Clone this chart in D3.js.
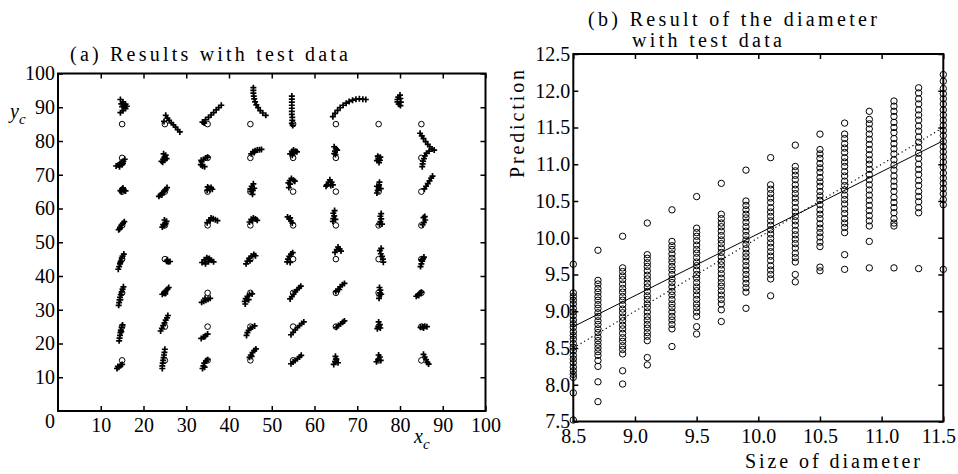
<!DOCTYPE html>
<html>
<head>
<meta charset="utf-8">
<script src="https://cdn.jsdelivr.net/npm/d3@7"></script>
<style>
	body { margin: 0; background: #fff; }
	svg text { font-family: 'Liberation Serif', 'DejaVu Serif', serif; }
</style>
</head>
<body>
<svg id="graphic" width="958" height="474"></svg>
<script>
// ---- panel (a): target grid and predicted positions ----
const targetXs = [15, 25, 35, 45, 55, 65, 75, 85];
const targetYs = [85, 75, 65, 55, 45, 35, 25, 15];

// one list of predicted (x, y) per target, row by row (targetYs) then targetXs
const predictedTracks = [
	// y = 85
	[[14.6,92.3],[15.2,91.6],[15.8,90.9],[16.1,90.3],[15.8,89.6],[15.2,89.0],[14.6,88.4],[15.0,90.2],[14.8,91.0],[15.4,90.4]],
	[[25.2,87.6],[25.6,86.8],[26.0,86.1],[26.5,85.4],[27.0,84.8],[27.5,84.1],[28.0,83.4],[28.5,82.7],[24.8,85.8]],
	[[33.8,85.6],[34.5,86.3],[35.2,87.0],[35.8,87.7],[36.4,88.4],[37.0,89.2],[37.6,89.9],[38.2,90.6],[34.2,85.3]],
	[[45.7,95.8],[45.7,95.0],[45.7,94.2],[45.8,93.3],[45.9,92.5],[46.1,91.6],[46.4,90.7],[46.8,89.9],[47.3,89.0],[47.9,88.3],[48.6,87.6]],
	[[54.7,93.3],[54.7,92.4],[54.7,91.5],[54.7,90.6],[54.7,89.7],[54.7,88.8],[54.7,87.9],[54.8,87.0],[54.8,86.1],[54.7,85.2],[54.9,84.6]],
	[[64.3,87.2],[64.8,88.2],[65.4,89.1],[66.0,89.9],[66.7,90.6],[67.4,91.2],[68.1,91.7],[68.9,92.1],[69.7,92.4],[70.5,92.5],[71.3,92.4],[72.0,92.3]],
	[[80.0,93.6],[79.6,93.0],[79.4,92.3],[79.4,91.6],[79.7,90.9],[80.1,90.5],[80.2,91.5],[80.1,92.6]],
	[[84.7,82.3],[85.1,81.5],[85.5,80.7],[86.0,79.8],[86.5,79.0],[87.0,78.3],[87.5,77.6],[88.0,77.3]],
	// y = 75
	[[13.6,72.6],[14.1,72.9],[14.5,73.3],[14.9,73.7],[15.3,74.0],[15.6,74.6],[14.4,72.4],[15.0,73.0],[15.2,73.4]],
	[[24.2,74.0],[24.6,74.6],[24.9,75.2],[25.2,75.8],[24.7,76.2],[25.4,74.8],[24.5,73.7],[25.0,74.3]],
	[[33.4,73.0],[33.6,73.8],[34.0,74.5],[34.5,75.0],[35.0,75.2],[33.8,72.6],[34.3,72.4],[33.5,74.3]],
	[[45.2,76.2],[45.6,76.8],[46.1,77.1],[46.6,77.3],[47.1,77.4],[47.6,77.5],[45.9,76.6]],
	[[54.3,76.2],[54.7,76.9],[55.1,77.3],[55.6,77.0],[55.2,76.3],[54.8,75.8],[55.9,76.8]],
	[[64.6,76.3],[64.8,77.0],[65.0,77.7],[64.6,78.3],[65.3,77.3],[64.9,76.0]],
	[[74.6,74.2],[75.0,74.7],[75.4,75.2],[74.8,75.5],[75.1,73.6],[75.3,74.3]],
	[[86.8,77.0],[86.2,76.4],[85.8,75.6],[85.6,74.8],[85.4,74.0],[85.3,73.2],[85.2,72.4]],
	// y = 65
	[[14.6,65.3],[15.0,65.8],[15.4,65.5],[15.8,65.2],[14.9,65.0],[15.2,66.1]],
	[[23.6,63.6],[24.0,64.1],[24.4,64.6],[24.8,65.1],[25.2,65.6],[25.5,66.2],[24.3,64.0],[25.0,65.4]],
	[[34.9,65.4],[35.3,66.0],[35.8,66.2],[36.1,65.7],[35.5,65.6],[35.0,66.4]],
	[[45.5,64.2],[45.2,65.0],[45.0,65.8],[45.3,66.6],[45.7,67.3],[45.9,66.0],[45.6,65.4]],
	[[53.9,67.6],[54.2,68.3],[54.6,68.9],[55.1,68.4],[55.4,68.1],[54.0,66.2],[54.3,67.2]],
	[[62.9,67.0],[63.3,67.8],[63.6,68.5],[64.0,67.8],[64.3,67.0],[63.8,66.8],[62.7,66.6]],
	[[74.6,64.6],[74.8,65.4],[75.0,66.2],[75.1,67.0],[75.2,67.8],[74.6,66.6],[75.5,65.9]],
	[[85.7,65.8],[86.1,66.6],[86.5,67.4],[86.9,68.2],[87.3,69.0],[87.6,69.6]],
	// y = 55
	[[14.2,53.7],[14.5,54.4],[14.8,55.0],[15.2,55.6],[15.5,56.1],[14.4,53.9]],
	[[24.4,54.5],[24.8,55.0],[25.2,55.5],[25.4,56.2],[24.9,56.6],[24.6,55.2]],
	[[34.9,55.8],[35.3,56.6],[35.8,57.2],[36.3,57.0],[36.8,56.7],[37.3,56.4],[35.6,56.4]],
	[[44.8,56.0],[45.2,56.8],[45.7,57.2],[46.2,56.9],[46.6,56.5],[45.5,56.4]],
	[[53.7,57.5],[54.1,56.9],[54.5,56.3],[54.8,55.7],[54.3,57.2]],
	[[64.3,56.2],[64.4,57.0],[64.6,57.8],[64.4,58.6],[64.7,59.4],[64.9,56.8]],
	[[75.2,55.3],[75.4,56.1],[75.6,56.9],[75.4,57.7],[75.6,58.5],[75.8,55.4]],
	[[85.3,55.2],[85.6,55.9],[85.9,56.6],[85.5,57.3],[85.8,57.6]],
	// y = 45
	[[14.1,42.0],[14.3,42.8],[14.5,43.6],[14.7,44.4],[14.9,45.2],[15.1,45.9],[15.4,46.5],[14.6,44.0]],
	[[25.4,44.4],[25.8,44.2],[26.2,44.3],[25.6,44.8]],
	[[33.7,44.0],[34.2,44.8],[34.8,45.4],[35.4,45.2],[35.9,44.7],[36.4,44.2],[34.5,43.6],[35.2,44.2]],
	[[44.0,43.6],[44.3,44.4],[44.7,45.2],[45.2,45.9],[45.8,46.4],[46.2,46.0],[44.9,44.5]],
	[[53.6,44.2],[53.8,45.0],[54.1,45.8],[54.5,46.5],[54.9,46.9],[54.3,44.0]],
	[[64.8,47.0],[65.2,47.8],[65.5,48.6],[65.9,48.0],[66.2,47.4]],
	[[75.3,47.5],[75.5,46.6],[75.8,45.8],[76.0,45.0],[76.1,44.1],[75.6,48.2]],
	[[84.8,42.8],[85.0,43.6],[85.2,44.4],[85.4,45.1],[85.6,45.6],[85.0,44.8]],
	// y = 35
	[[14.2,31.3],[14.3,32.1],[14.4,32.9],[14.5,33.7],[14.7,34.5],[14.9,35.3],[15.1,36.1],[15.3,36.8],[14.6,33.0]],
	[[24.4,34.6],[24.8,35.1],[25.2,35.6],[25.6,36.1],[25.9,36.6],[25.1,34.8]],
	[[33.6,32.2],[34.1,32.5],[34.6,32.8],[35.1,33.1],[35.6,33.4],[34.4,33.4]],
	[[43.8,31.7],[43.7,32.5],[43.9,33.3],[44.3,34.0],[44.8,34.5],[45.4,34.7],[44.6,33.0]],
	[[54.3,33.2],[54.7,33.9],[55.1,34.6],[55.5,35.3],[55.9,35.9],[56.4,36.5],[56.8,37.0]],
	[[65.0,35.4],[65.5,36.1],[66.0,36.8],[66.5,37.4],[67.0,37.8],[65.8,36.0]],
	[[75.1,33.4],[75.2,34.2],[75.3,35.0],[75.4,35.8],[75.2,36.6],[75.6,34.6]],
	[[83.8,34.0],[84.2,34.4],[84.6,34.8],[85.0,35.2],[84.4,34.2]],
	// y = 25
	[[14.3,20.8],[14.4,21.6],[14.5,22.4],[14.6,23.2],[14.7,24.0],[14.9,24.8],[15.1,25.5],[14.8,23.5]],
	[[24.0,23.7],[24.3,24.5],[24.6,25.3],[24.9,26.1],[25.2,26.9],[25.5,27.6],[25.7,28.3]],
	[[33.5,21.5],[34.0,21.9],[34.5,22.3],[35.0,22.8],[34.3,22.0]],
	[[44.1,22.4],[44.3,23.2],[44.6,23.9],[45.0,24.5],[45.5,24.9],[46.0,25.2]],
	[[54.5,22.6],[55.0,23.3],[55.5,24.0],[56.0,24.7],[56.5,25.3],[57.0,25.9],[57.5,26.4]],
	[[65.1,24.8],[65.6,25.3],[66.1,25.8],[66.6,26.3],[67.0,26.7]],
	[[74.7,24.4],[75.0,25.0],[75.3,25.6],[75.0,26.4],[75.4,24.6]],
	[[84.8,24.8],[85.3,25.0],[85.8,25.1],[86.3,25.0],[85.5,24.6]],
	// y = 15
	[[13.8,12.6],[14.2,13.0],[14.6,13.4],[15.0,13.8],[14.0,13.2]],
	[[24.4,12.6],[24.4,13.4],[24.5,14.2],[24.6,15.0],[24.7,15.8],[24.8,16.6],[24.9,17.4],[25.0,18.3]],
	[[33.8,12.6],[34.0,13.4],[34.2,14.2],[34.6,14.8],[35.0,15.2],[34.3,13.0]],
	[[44.8,15.9],[45.1,16.6],[45.5,17.3],[45.9,17.9],[46.3,18.4],[45.3,16.2]],
	[[54.5,14.0],[55.0,14.5],[55.5,15.0],[56.0,15.5],[56.5,16.0],[56.9,16.5]],
	[[64.5,13.8],[64.8,14.6],[65.1,15.4],[65.5,14.3],[64.9,16.2]],
	[[74.5,14.6],[74.9,15.3],[75.3,16.0],[75.0,16.6],[75.5,15.0]],
	[[85.5,16.8],[85.8,16.0],[86.1,15.2],[86.4,14.4],[86.7,13.9]]
];

const posTickLabels = [10, 20, 30, 40, 50, 60, 70, 80, 90, 100];

// ---- panel (b): diameter predictions ----
const diameterSizes = [8.5, 8.7, 8.9, 9.1, 9.3, 9.5, 9.7, 9.9, 10.1, 10.3, 10.5, 10.7, 10.9, 11.1, 11.3, 11.5];
const diameterPredictions = [
	[9.64, 9.25, 9.20, 9.15, 9.10, 9.04, 8.99, 8.94, 8.88, 8.83, 8.78, 8.72, 8.67, 8.62, 8.56, 8.51, 8.46, 8.40, 8.35, 8.30, 8.24, 8.19, 8.14, 8.10, 7.89, 7.52],
	[9.83, 9.42, 9.37, 9.31, 9.26, 9.20, 9.15, 9.09, 9.04, 8.98, 8.93, 8.87, 8.82, 8.76, 8.71, 8.65, 8.60, 8.55, 8.50, 8.45, 8.40, 8.33, 8.25, 8.04, 7.77],
	[10.02, 9.59, 9.54, 9.48, 9.43, 9.37, 9.31, 9.26, 9.20, 9.15, 9.09, 9.03, 8.98, 8.92, 8.87, 8.81, 8.76, 8.70, 8.64, 8.59, 8.53, 8.48, 8.42, 8.19, 8.01],
	[10.20, 9.77, 9.72, 9.66, 9.61, 9.55, 9.49, 9.44, 9.38, 9.33, 9.27, 9.21, 9.16, 9.10, 9.05, 8.99, 8.93, 8.88, 8.82, 8.77, 8.71, 8.66, 8.60, 8.37, 8.27],
	[10.38, 9.95, 9.89, 9.84, 9.78, 9.72, 9.67, 9.61, 9.56, 9.50, 9.44, 9.39, 9.33, 9.27, 9.22, 9.16, 9.10, 9.05, 8.99, 8.93, 8.88, 8.82, 8.76, 8.52],
	[10.56, 10.13, 10.07, 10.02, 9.96, 9.90, 9.84, 9.79, 9.73, 9.67, 9.62, 9.56, 9.50, 9.45, 9.39, 9.33, 9.28, 9.22, 9.16, 9.10, 9.05, 8.99, 8.93, 8.79, 8.69],
	[10.74, 10.32, 10.26, 10.20, 10.15, 10.09, 10.03, 9.97, 9.92, 9.86, 9.80, 9.74, 9.68, 9.63, 9.57, 9.51, 9.45, 9.39, 9.34, 9.28, 9.22, 9.16, 9.10, 9.02, 8.86],
	[10.92, 10.50, 10.44, 10.38, 10.32, 10.27, 10.21, 10.15, 10.09, 10.03, 9.97, 9.91, 9.85, 9.79, 9.74, 9.68, 9.62, 9.56, 9.50, 9.44, 9.38, 9.32, 9.26, 9.04],
	[11.09, 10.72, 10.66, 10.60, 10.54, 10.48, 10.41, 10.35, 10.29, 10.23, 10.17, 10.11, 10.05, 9.99, 9.93, 9.87, 9.81, 9.75, 9.69, 9.62, 9.56, 9.50, 9.44, 9.21],
	[11.26, 10.97, 10.91, 10.85, 10.79, 10.72, 10.66, 10.60, 10.54, 10.48, 10.41, 10.35, 10.29, 10.23, 10.17, 10.10, 10.04, 9.98, 9.92, 9.86, 9.79, 9.73, 9.67, 9.50, 9.40],
	[11.41, 11.20, 11.14, 11.08, 11.01, 10.95, 10.89, 10.82, 10.76, 10.70, 10.63, 10.57, 10.51, 10.45, 10.38, 10.32, 10.26, 10.19, 10.13, 10.07, 10.01, 9.94, 9.88, 9.60, 9.55],
	[11.56, 11.41, 11.35, 11.28, 11.22, 11.16, 11.09, 11.03, 10.97, 10.90, 10.84, 10.77, 10.71, 10.65, 10.58, 10.52, 10.46, 10.39, 10.33, 10.26, 10.20, 10.14, 10.07, 9.77, 9.57],
	[11.72, 11.61, 11.55, 11.48, 11.41, 11.34, 11.27, 11.20, 11.13, 11.06, 11.00, 10.93, 10.86, 10.79, 10.72, 10.65, 10.58, 10.51, 10.44, 10.37, 10.30, 10.23, 10.16, 9.95, 9.59],
	[11.86, 11.79, 11.72, 11.65, 11.57, 11.50, 11.43, 11.35, 11.28, 11.21, 11.14, 11.06, 10.99, 10.92, 10.84, 10.77, 10.70, 10.63, 10.55, 10.48, 10.41, 10.34, 10.26, 10.20, 10.16, 9.59],
	[12.04, 11.97, 11.89, 11.82, 11.74, 11.67, 11.60, 11.52, 11.45, 11.37, 11.30, 11.23, 11.15, 11.08, 11.00, 10.93, 10.86, 10.78, 10.71, 10.63, 10.56, 10.49, 10.41, 10.34, 9.58],
	[12.22, 12.13, 12.03, 11.96, 11.89, 11.82, 11.74, 11.67, 11.60, 11.53, 11.46, 11.39, 11.31, 11.24, 11.17, 11.10, 11.03, 10.96, 10.88, 10.81, 10.74, 10.67, 10.60, 10.52, 10.45, 9.57]
];
const fitLine = [[8.5, 8.79], [11.5, 11.32]];
const idealLine = [[8.5, 8.5], [11.5, 11.5]];
const diamXTicks = [8.5, 9.0, 9.5, 10.0, 10.5, 11.0, 11.5];
const diamYTicks = [7.5, 8.0, 8.5, 9.0, 9.5, 10.0, 10.5, 11.0, 11.5, 12.0, 12.5];

const svg = d3.select('#graphic');
const fontSize = 20;
const serif = 'Liberation Serif';

// draw a boxed frame with inward ticks on all four sides
function drawFrame(g, x, y, xTicks, yTicks, xFmt, yFmt) {
	const [x0, x1] = x.range();
	const [y0, y1] = y.range();

	const styleAxis = (sel) => {
		sel.attr('font-family', serif).attr('font-size', fontSize);
		sel.select('.domain').remove();
		sel.selectAll('line').attr('stroke', '#000').attr('stroke-width', 1.5);
		sel.selectAll('text').attr('fill', '#000');
	};

	const bottom = g.append('g').attr('transform', `translate(0,${y0})`)
		.call(d3.axisBottom(x).tickValues(xTicks).tickSizeInner(-5).tickSizeOuter(0).tickPadding(7).tickFormat(xFmt))
		.call(styleAxis);
	g.append('g').attr('transform', `translate(0,${y1})`)
		.call(d3.axisTop(x).tickValues(xTicks).tickSizeInner(-5).tickSizeOuter(0).tickFormat(''))
		.call(styleAxis);
	g.append('g').attr('transform', `translate(${x0},0)`)
		.call(d3.axisLeft(y).tickValues(yTicks).tickSizeInner(-5).tickSizeOuter(0).tickPadding(3).tickFormat(yFmt))
		.call(styleAxis);
	g.append('g').attr('transform', `translate(${x1},0)`)
		.call(d3.axisRight(y).tickValues(yTicks).tickSizeInner(-5).tickSizeOuter(0).tickFormat(''))
		.call(styleAxis);

	g.append('rect')
		.attr('x', x0).attr('y', y1)
		.attr('width', x1 - x0).attr('height', y0 - y1)
		.attr('fill', 'none').attr('stroke', '#000').attr('stroke-width', 2);

	return bottom;
}

function addLabel(text, x, y, len, anchor, rotate) {
	const t = svg.append('text')
		.attr('transform', `translate(${x},${y})` + (rotate ? ` rotate(${rotate})` : ''))
		.attr('font-family', serif)
		.attr('font-size', fontSize)
		.attr('text-anchor', anchor || 'start')
		.attr('fill', '#000')
		.text(text);
	if (len) t.attr('textLength', len).attr('lengthAdjust', 'spacing');
	return t;
}

// ---------------- panel (a) ----------------
const xA = d3.scaleLinear().domain([0, 100]).range([58, 485.5]);
const yA = d3.scaleLinear().domain([0, 100]).range([411, 73.5]);
const gA = svg.append('g');

drawFrame(gA, xA, yA, posTickLabels, posTickLabels, d3.format('d'), d3.format('d'));
// shared origin label in the corner
gA.append('text')
	.attr('x', 50).attr('y', 428)
	.attr('font-family', serif)
	.attr('font-size', fontSize).attr('text-anchor', 'middle')
	.text('0');

const targets = [];
targetYs.forEach((ty) => targetXs.forEach((tx) => targets.push([tx, ty])));

gA.append('g').selectAll('circle')
	.data(targets)
	.join('circle')
	.attr('cx', (d) => xA(d[0]))
	.attr('cy', (d) => yA(d[1]))
	.attr('r', 2.8)
	.attr('fill', 'none')
	.attr('stroke', '#000')
	.attr('stroke-width', 1);

const plusPts = predictedTracks.flat();
const arm = 3;
gA.append('path')
	.attr('d', plusPts.map((d) => {
		const px = xA(d[0]), py = yA(d[1]);
		return `M${px - arm},${py}H${px + arm}M${px},${py - arm}V${py + arm}`;
	}).join(''))
	.attr('stroke', '#000')
	.attr('stroke-width', 1.7)
	.attr('fill', 'none');

addLabel('(a) Results with test data', 70, 61, 278);

const yc = svg.append('text').attr('x', 10).attr('y', 118)
	.attr('font-family', serif).attr('font-size', fontSize).attr('font-style', 'italic');
yc.append('tspan').text('y');
yc.append('tspan').attr('dy', 6).attr('font-size', 15).text('c');
const xc = svg.append('text').attr('x', 414).attr('y', 443)
	.attr('font-family', serif).attr('font-size', fontSize).attr('font-style', 'italic');
xc.append('tspan').text('x');
xc.append('tspan').attr('dy', 6).attr('font-size', 15).text('c');

// ---------------- panel (b) ----------------
const xB = d3.scaleLinear().domain([8.5, 11.5]).range([573.3, 943.3]);
const yB = d3.scaleLinear().domain([7.5, 12.5]).range([421.5, 54]);
const gB = svg.append('g');

const bottomB = drawFrame(gB, xB, yB, diamXTicks, diamYTicks, d3.format('.1f'), d3.format('.1f'));
// last label sits at the page edge, nudge it in as the original does
bottomB.selectAll('.tick text').filter((d) => d === 11.5).attr('dx', -5);

const diamPts = [];
diameterSizes.forEach((s, i) => diameterPredictions[i].forEach((v) => diamPts.push([s, v])));

gB.append('g').selectAll('circle')
	.data(diamPts)
	.join('circle')
	.attr('cx', (d) => xB(d[0]))
	.attr('cy', (d) => yB(d[1]))
	.attr('r', 3.2)
	.attr('fill', 'none')
	.attr('stroke', '#000')
	.attr('stroke-width', 1);

const lineB = d3.line().x((d) => xB(d[0])).y((d) => yB(d[1]));
gB.append('path').datum(fitLine)
	.attr('d', lineB).attr('fill', 'none').attr('stroke', '#000').attr('stroke-width', 1);
gB.append('path').datum(idealLine)
	.attr('d', lineB).attr('fill', 'none').attr('stroke', '#000').attr('stroke-width', 1.2)
	.attr('stroke-dasharray', '1.2,3');

addLabel('(b) Result of the diameter', 588, 26, 289);
addLabel('with test data', 632, 47, 150);
addLabel('Prediction', 524, 124, 108, 'middle', -90);
addLabel('Size of diameter', 745, 468, 175);
</script>
</body>
</html>
